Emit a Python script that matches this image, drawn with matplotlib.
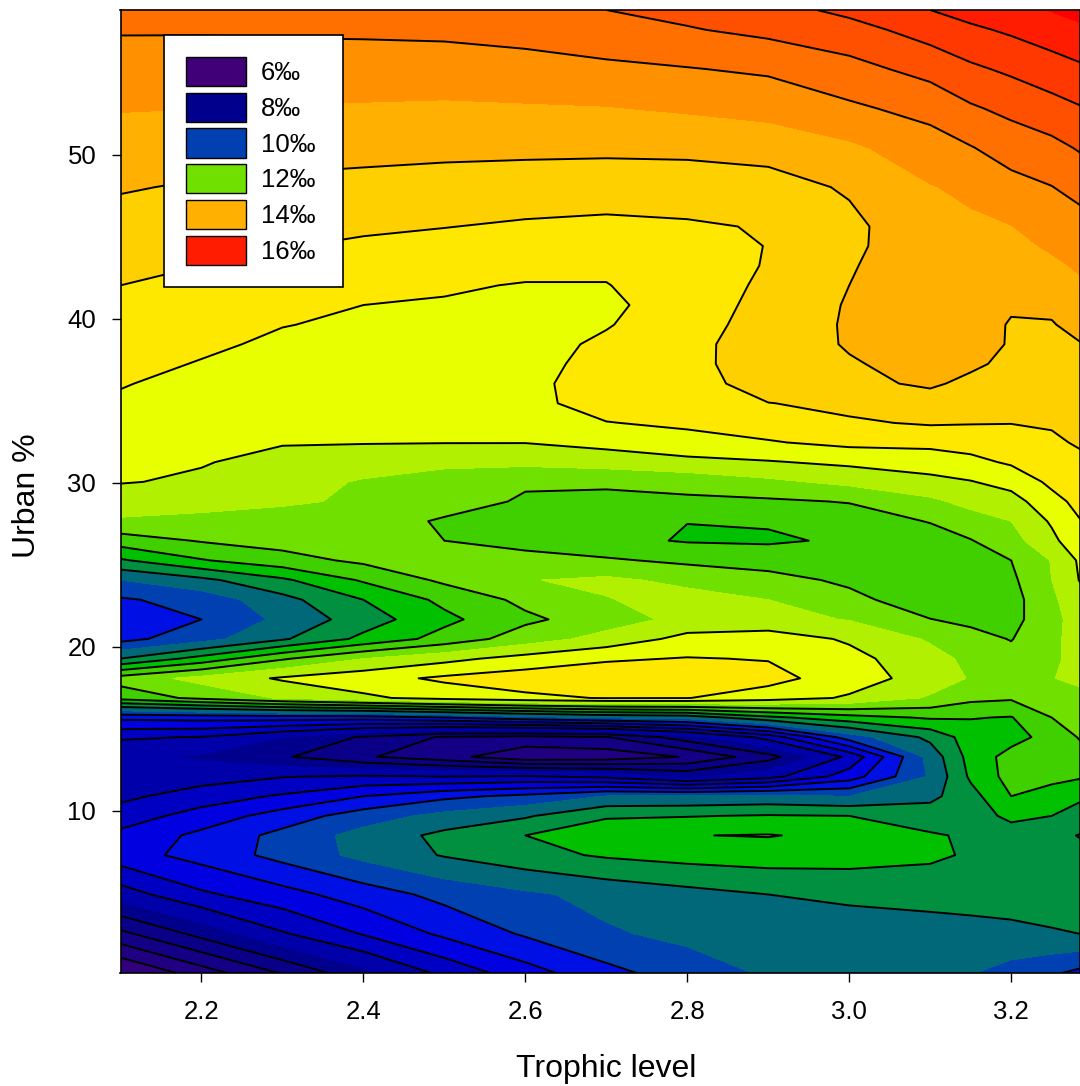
import numpy as np
from matplotlib import pyplot as plt
from matplotlib.patches import Patch

plt.rcParams['font.family'] = ['Liberation Sans', 'DejaVu Sans']

trophic = [2.1, 2.2, 2.3, 2.4, 2.5, 2.6, 2.7, 2.8, 2.9, 3.0, 3.1, 3.15, 3.2, 3.25, 3.3]
urban = [0.12, 2.52, 4.91, 7.31, 8.51, 9.70, 10.90, 12.10, 13.30, 14.50, 15.70, 16.89,
         18.09, 19.29, 20.49, 21.68, 22.88, 24.08, 25.28, 26.48, 27.67, 28.87, 30.07,
         31.27, 32.47, 33.66, 34.86, 36.06, 37.26, 38.46, 39.65, 40.85, 42.05, 43.25,
         44.45, 45.64, 48.04, 50.44, 52.83, 55.23, 57.63, 58.84]

# values, one row per urban value, bottom to top
delta = [
    [6.15, 6.8, 7.43, 8.08, 8.7, 9.23, 9.68, 10.0, 10.25, 10.3, 10.3, 10.22, 10.05, 9.87, 9.6],
    [7.3, 7.93, 8.56, 9.03, 9.48, 9.85, 10.15, 10.3, 10.38, 10.42, 10.45, 10.47, 10.5, 10.56, 10.62],
    [8.4, 8.93, 9.25, 9.6, 9.92, 10.13, 10.32, 10.47, 10.6, 10.67, 10.72, 10.75, 10.78, 10.82, 10.85],
    [9.22, 9.55, 9.93, 10.31, 10.63, 10.87, 11.05, 11.15, 11.2, 11.18, 11.08, 10.95, 10.85, 10.78, 10.65],
    [9.1, 9.5, 9.92, 10.35, 10.7, 11.0, 11.17, 11.39, 11.42, 11.3, 11.04, 10.95, 10.8, 10.72, 10.52],
    [8.8, 9.16, 9.58, 10.0, 10.33, 10.55, 10.97, 10.98, 11.03, 11.0, 10.8, 10.8, 11.1, 11.0, 10.8],
    [8.5, 8.8, 9.05, 9.4, 9.7, 9.9, 10.22, 10.25, 10.3, 10.2, 10.5, 10.85, 11.4, 11.25, 11.0],
    [8.42, 8.42, 8.58, 8.65, 8.6, 8.65, 8.5, 8.1, 8.45, 9.2, 10.25, 11.07, 11.55, 11.5, 11.4],
    [8.3, 8.15, 7.85, 7.45, 7.15, 6.7, 6.75, 7.03, 7.65, 8.7, 10.35, 11.15, 11.55, 11.6, 11.78],
    [8.65, 8.58, 8.2, 7.75, 7.35, 7.28, 7.38, 8.0, 8.75, 10.0, 10.7, 11.2, 11.25, 11.55, 11.95],
    [9.5, 9.55, 9.6, 9.6, 9.8, 10.05, 10.25, 10.35, 10.9, 11.25, 11.45, 11.42, 11.38, 11.8, 11.95],
    [11.55, 11.9, 12.25, 12.52, 12.75, 12.92, 13.02, 13.01, 12.8, 12.55, 12.15, 11.9, 11.85, 11.95, 12.1],
    [11.97, 12.33, 12.65, 12.85, 13.07, 13.2, 13.25, 13.22, 13.13, 12.8, 12.42, 12.17, 12.05, 12.18, 12.4],
    [10.6, 11.15, 11.75, 12.2, 12.48, 12.75, 12.95, 13.02, 12.98, 12.72, 12.35, 12.1, 11.95, 12.15, 12.35],
    [9.67, 10.05, 10.55, 11.1, 11.55, 12.0, 12.35, 12.72, 12.8, 12.55, 12.15, 11.95, 11.78, 12.15, 12.35],
    [9.5, 9.8, 10.3, 10.8, 11.3, 11.72, 12.0, 12.33, 12.33, 12.18, 11.81, 11.7, 11.65, 12.12, 12.4],
    [9.75, 9.95, 10.47, 11.0, 11.5, 11.9, 12.18, 12.35, 12.2, 11.92, 11.55, 11.5, 11.65, 12.12, 12.62],
    [10.2, 10.5, 10.93, 11.45, 11.88, 12.18, 12.28, 12.1, 11.95, 11.72, 11.5, 11.55, 11.72, 12.2, 12.8],
    [10.95, 11.37, 11.65, 11.88, 11.95, 11.95, 11.85, 11.72, 11.62, 11.55, 11.6, 11.68, 11.8, 12.22, 12.85],
    [11.6, 11.83, 11.95, 11.95, 11.8, 11.65, 11.5, 11.37, 11.35, 11.45, 11.62, 11.78, 12.05, 12.5, 13.05],
    [12.15, 12.1, 12.05, 12.0, 11.75, 11.6, 11.5, 11.405, 11.436, 11.6, 11.82, 12.03, 12.2, 12.65, 13.12],
    [12.4, 12.33, 12.25, 12.15, 11.98, 11.75, 11.72, 11.72, 11.74, 11.82, 12.12, 12.32, 12.43, 12.88, 13.2],
    [12.62, 12.55, 12.33, 12.17, 11.95, 11.85, 11.85, 11.95, 12.12, 12.3, 12.48, 12.58, 12.75, 13.08, 13.28],
    [12.72, 12.62, 12.5, 12.36, 12.33, 12.3, 12.38, 12.48, 12.57, 12.68, 12.8, 12.9, 13.05, 13.22, 13.37],
    [12.78, 12.68, 12.62, 12.62, 12.61, 12.61, 12.72, 12.9, 12.97, 13.1, 13.1, 13.15, 13.2, 13.35, 13.47],
    [12.86, 12.75, 12.68, 12.67, 12.65, 12.64, 12.99, 13.05, 13.2, 13.35, 13.44, 13.42, 13.41, 13.43, 13.53],
    [12.95, 12.83, 12.75, 12.72, 12.7, 12.92, 13.12, 13.12, 13.39, 13.5, 13.65, 13.55, 13.48, 13.5, 13.6],
    [13.02, 12.9, 12.82, 12.78, 12.75, 12.9, 13.18, 13.17, 13.65, 13.72, 13.85, 13.72, 13.6, 13.57, 13.67],
    [13.1, 12.98, 12.88, 12.84, 12.8, 12.85, 13.15, 13.21, 13.75, 13.78, 13.88, 13.86, 13.72, 13.63, 13.74],
    [13.18, 13.06, 12.94, 12.9, 12.85, 12.83, 13.08, 13.25, 13.67, 13.82, 13.92, 13.9, 13.78, 13.69, 13.83],
    [13.25, 13.14, 13.01, 12.95, 12.92, 12.89, 12.97, 13.28, 13.52, 13.85, 13.95, 13.92, 13.78, 13.78, 13.95],
    [13.33, 13.22, 13.11, 13.0, 12.97, 12.94, 12.88, 13.3, 13.46, 13.84, 13.97, 13.95, 13.83, 13.86, 14.07],
    [13.4, 13.31, 13.21, 13.12, 13.04, 12.98, 12.98, 13.31, 13.43, 13.8, 14.0, 13.98, 13.92, 14.0, 14.2],
    [13.5, 13.4, 13.32, 13.24, 13.16, 13.1, 13.1, 13.32, 13.41, 13.77, 14.03, 14.03, 14.01, 14.13, 14.3],
    [13.58, 13.48, 13.42, 13.34, 13.28, 13.23, 13.2, 13.33, 13.405, 13.72, 14.06, 14.08, 14.1, 14.25, 14.4],
    [13.66, 13.58, 13.52, 13.46, 13.41, 13.35, 13.32, 13.35, 13.43, 13.7, 14.1, 14.13, 14.19, 14.37, 14.5],
    [13.83, 13.76, 13.72, 13.68, 13.65, 13.62, 13.58, 13.62, 13.63, 13.85, 14.18, 14.28, 14.47, 14.59, 14.8],
    [14.02, 13.97, 13.94, 13.92, 13.89, 13.88, 13.88, 13.88, 13.96, 14.13, 14.42, 14.58, 14.77, 14.89, 15.1],
    [14.22, 14.2, 14.17, 14.16, 14.14, 14.16, 14.18, 14.25, 14.33, 14.53, 14.73, 14.95, 15.1, 15.25, 15.42],
    [14.42, 14.41, 14.41, 14.41, 14.41, 14.45, 14.52, 14.58, 14.66, 14.87, 15.13, 15.33, 15.47, 15.63, 15.78],
    [14.63, 14.63, 14.65, 14.66, 14.68, 14.74, 14.84, 14.97, 15.1, 15.25, 15.57, 15.73, 15.86, 16.0, 16.17],
    [14.74, 14.75, 14.78, 14.8, 14.83, 14.87, 15.0, 15.12, 15.25, 15.5, 15.8, 15.95, 16.05, 16.22, 16.38],
]

fill_levels = [5.8, 6.2, 6.6, 7.0, 7.4, 7.8, 8.2, 8.6, 9.0, 9.4, 9.8, 10.2, 10.6, 11.0, 11.4,
               11.8, 12.2, 12.6, 13.0, 13.4, 13.8, 14.2, 14.6, 15.0, 15.4, 15.8, 16.2, 16.6]
line_levels = [6.6, 7.0, 7.4, 7.8, 8.6, 9.0, 9.4, 9.8, 10.6, 11.0, 11.4, 11.8,
               12.6, 13.0, 13.4, 13.8, 14.6, 15.0, 15.4, 15.8]
band_colors = ['#400078', '#30007d', '#200080', '#140084', '#0a0088', '#00008c', '#0000aa',
               '#0000c3', '#0000e1', '#0010e4', '#0040b0', '#006878', '#009040', '#00c000',
               '#40d000', '#70e000', '#b0f000', '#e8ff00', '#ffe800', '#ffd000', '#ffb000',
               '#ff9000', '#ff7000', '#ff5000', '#ff3800', '#ff1c00', '#ff0000']

legend_labels = ['6‰', '8‰', '10‰', '12‰', '14‰', '16‰']
legend_colors = ['#400078', '#00008c', '#0040b0', '#70e000', '#ffb000', '#ff1c00']

fig = plt.figure(figsize=(10.8, 10.86), dpi=100)
ax = fig.add_axes([120.5/1080, 113/1086, 959.5/1080, 963/1086])

ax.contourf(trophic, urban, delta, levels=fill_levels, colors=band_colors)
ax.contour(trophic, urban, delta, levels=line_levels, colors='k', linewidths=1.4,
           linestyles='solid')

ax.set_xlim(2.1, 3.285)
ax.set_ylim(0.12, 58.84)
ax.set_xticks([2.2, 2.4, 2.6, 2.8, 3.0, 3.2])
ax.set_yticks([10, 20, 30, 40, 50])
ax.tick_params(axis='x', length=6.5, width=1, labelsize=18.5, pad=13)
ax.tick_params(axis='y', length=6.5, width=1, labelsize=18.5, pad=11)
for s in ax.spines.values():
    s.set_linewidth(1.2)
ax.set_xlabel('Trophic level', fontsize=23, va='center')
ax.set_ylabel('Urban %', fontsize=23, va='center')
ax.xaxis.set_label_coords((606-120.5)/959.5, -(1069-973)/963)
ax.yaxis.set_label_coords((27-120.5)/959.5, (973-496)/963)

handles = [Patch(facecolor=c, edgecolor='k', linewidth=1) for c in legend_colors]
leg = ax.legend(handles, legend_labels, loc='upper left', mode='expand',
                bbox_to_anchor=((164-120.5)/959.5, (973-35)/963, (343-164)/959.5, 0),
                borderaxespad=0, fontsize=18.5, fancybox=False, framealpha=1, edgecolor='k',
                handlelength=2.37, handleheight=1.365, labelspacing=0.266,
                borderpad=0.84, handletextpad=0.55)
leg.get_frame().set_linewidth(1.2)

plt.savefig('out.png', dpi=100)
